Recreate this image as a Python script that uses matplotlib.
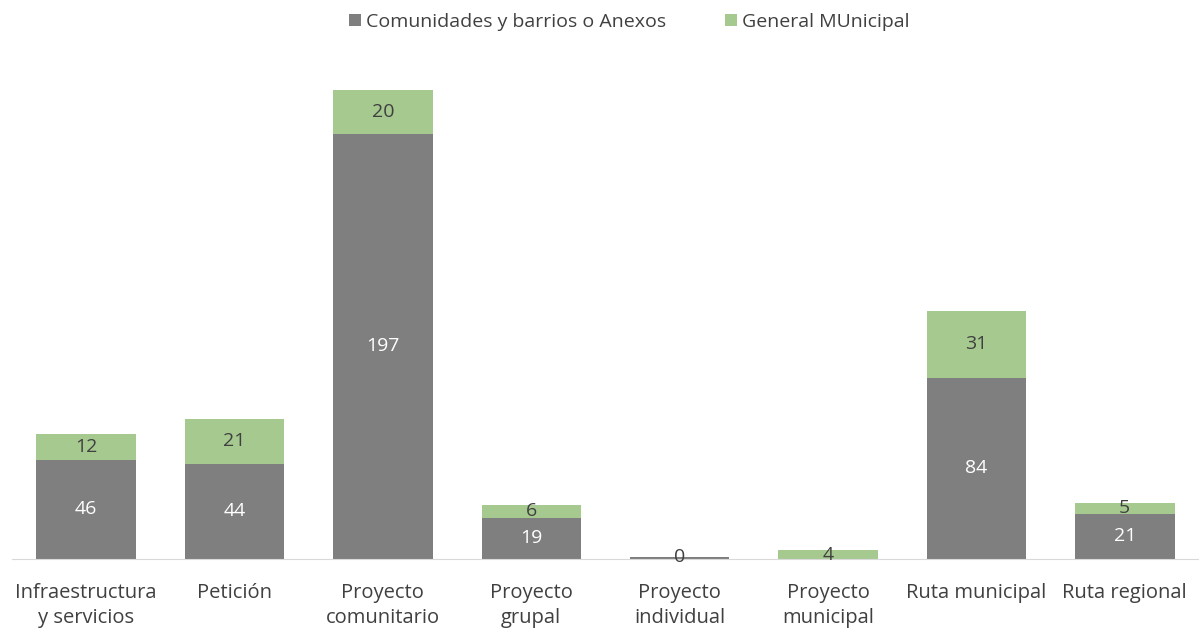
import matplotlib.pyplot as plt
import numpy as np

plt.rcParams['font.family'] = ['Open Sans', 'DejaVu Sans']

categorias = ["Infraestructura\ny servicios", "Petición", "Proyecto\ncomunitario",
              "Proyecto\ngrupal", "Proyecto\nindividual", "Proyecto\nmunicipal",
              "Ruta municipal", "Ruta regional"]
comunidades = [46, 44, 197, 19, 1, 0, 84, 21]
general = [12, 21, 20, 6, 0, 4, 31, 5]

gris = "#7F7F7F"
verde = "#A5C98F"
texto = "#404040"

fig = plt.figure(figsize=(11.99, 6.32), dpi=100)
ax = fig.add_axes([0.01, 0.1155, 0.99, 0.82])

x = np.arange(len(categorias))
b1 = ax.bar(x, comunidades, width=0.67, color=gris, label="Comunidades y barrios o Anexos")
b2 = ax.bar(x, general, width=0.67, bottom=comunidades, color=verde, label="General MUnicipal")

ax.bar_label(b1, labels=[str(v) if v >= 5 else "" for v in comunidades],
             label_type="center", color="white", fontsize=14)
ax.bar_label(b2, labels=[str(v) for v in general], label_type="center",
             color=texto, fontsize=14)

ax.set_xlim(-0.5, len(categorias) - 0.5)
ax.set_ylim(0, 240)
ax.set_xticks(x)
ax.set_xticklabels(categorias, fontsize=14.5, color=texto, linespacing=1.35)
ax.tick_params(axis="x", length=0, pad=17)
ax.set_yticks([])
for s in ["top", "right", "left"]:
    ax.spines[s].set_visible(False)
ax.spines["bottom"].set_color("#D9D9D9")

fig.legend(loc="upper center", bbox_to_anchor=(0.525, 1.007), ncol=2, frameon=False,
           fontsize=14, handlelength=0.6, handleheight=0.6, handletextpad=0.3,
           columnspacing=3.0, labelcolor=texto)

plt.savefig("out.png")
